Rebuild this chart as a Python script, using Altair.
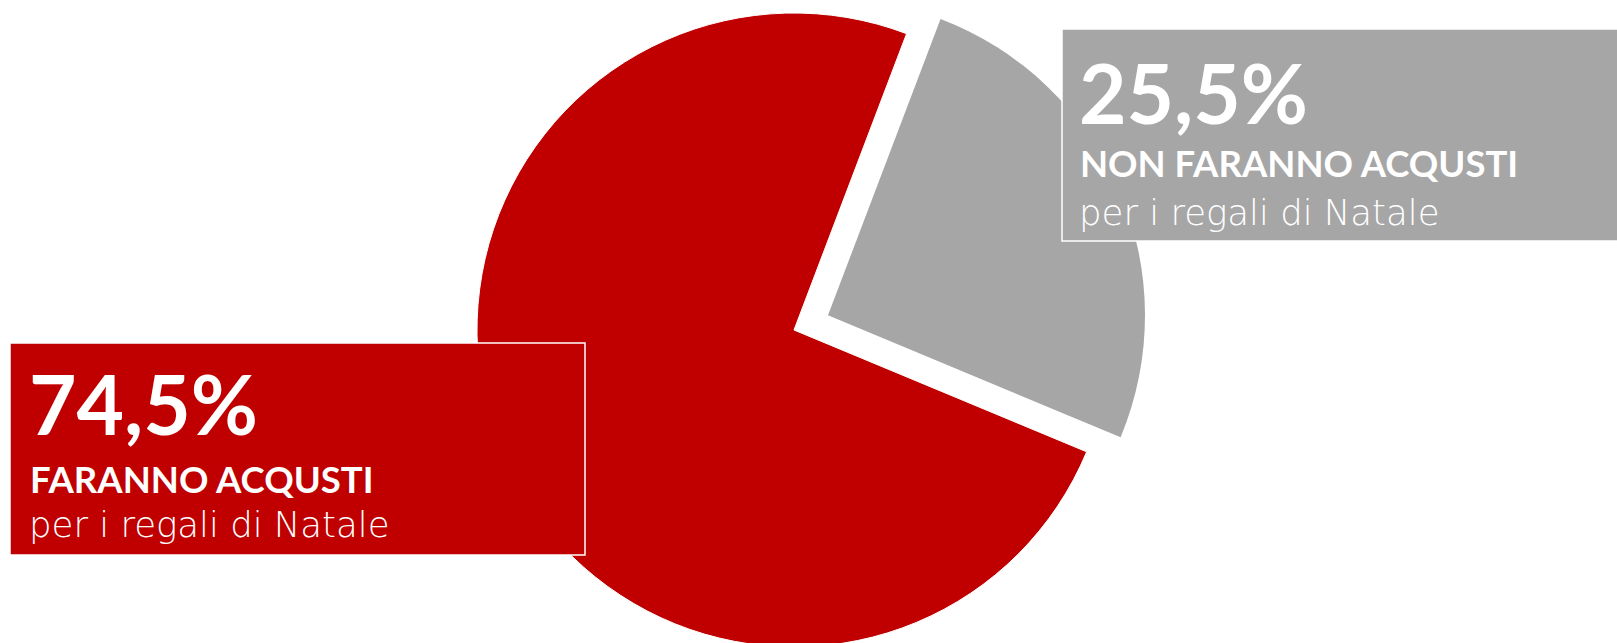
import altair as alt
import pandas as pd
import math

categories = ["NON FARANNO ACQUSTI", "FARANNO ACQUSTI"]
values = [25.5, 74.5]
subtitles = ["per i regali di Natale", "per i regali di Natale"]
colors = ["#A6A6A6", "#C00000"]
order = [0, 1]

df = pd.DataFrame({"cat": categories, "value": values, "sub": subtitles, "ord": order})

W, H = 1617, 643
start = math.radians(20.8)
CX, CY, R = 794, 330, 317
EXPL = 37
bis = start + math.radians(values[0] / 100 * 360 / 2)
GX, GY = CX + EXPL * math.sin(bis), CY - EXPL * math.cos(bis)

base = alt.Chart(df).transform_window(
    cum="sum(value)", sort=[alt.SortField("ord")]
).transform_calculate(
    t0="datum.cum - datum.value",
    label="replace(format(datum.value, '.1f'), '.', ',') + '%'"
)

theta_scale = alt.Scale(domain=[0, 100], range=[start, start + 2 * math.pi])
color_scale = alt.Scale(domain=categories, range=colors)

def slice_layer(cat, x, y, stroke):
    return base.transform_filter(alt.datum.cat == cat).mark_arc(
        radius=R, stroke=stroke, strokeWidth=1 if stroke else 0
    ).encode(
        theta=alt.Theta("t0:Q", scale=theta_scale),
        theta2="cum:Q",
        color=alt.Color("cat:N", scale=color_scale, legend=None),
        x=alt.value(x), y=alt.value(y),
    )

red_slice = slice_layer(categories[1], CX, CY, "white")
gray_slice = slice_layer(categories[0], GX, GY, None)

def box(cat, x1, x2, y1, y2):
    return base.transform_filter(alt.datum.cat == cat).mark_rect(
        stroke="white", strokeWidth=1.5
    ).encode(
        color=alt.Color("cat:N", scale=color_scale, legend=None),
        x=alt.value(x1), x2=alt.value(x2), y=alt.value(y1), y2=alt.value(y2),
    )

FONT = "Lato"
SUB_FONT = "DejaVu Sans"

def texts(cat, x, y_pct, y_title, y_sub):
    b = base.transform_filter(alt.datum.cat == cat)
    pct = b.mark_text(font=FONT, fontWeight="bold", fontSize=82, color="white",
                      align="left", baseline="alphabetic").encode(
        text="label:N", x=alt.value(x), y=alt.value(y_pct))
    title = b.mark_text(font=FONT, fontWeight="bold", fontSize=36.5, color="white",
                        align="left", baseline="alphabetic").encode(
        text="cat:N", x=alt.value(x + 1), y=alt.value(y_title))
    sub = b.mark_text(font=SUB_FONT, fontWeight=200, fontSize=35.5, color="white",
                      align="left", baseline="alphabetic").encode(
        text="sub:N", x=alt.value(x), y=alt.value(y_sub))
    return [pct, title, sub]

layers = [red_slice, gray_slice,
          box(categories[1], 10, 585, 343, 555),
          box(categories[0], 1062, 1625, 29, 241)]
layers += texts(categories[1], 29, 435, 493, 537)
layers += texts(categories[0], 1079, 124, 177, 225)

chart = alt.layer(*layers).properties(
    width=W, height=H, padding=0,
    autosize=alt.AutoSizeParams(type="none"),
).configure_view(stroke=None)

chart.save("out.html", embed_options={"renderer": "svg", "actions": False})
